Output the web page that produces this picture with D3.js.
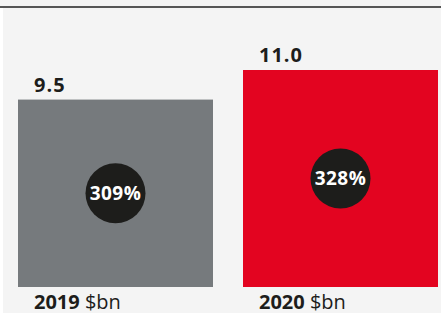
<!DOCTYPE html>
<html><head><meta charset="utf-8">
<script src="https://cdn.jsdelivr.net/npm/d3@7"></script>
<style>body{margin:0;background:#f4f4f4;}svg{display:block;}</style>
</head><body>
<script>
const categories = ["2019", "2020"];
const values = [9.5, 11.0];
const valueLabels = ["9.5", "11.0"];
const pctLabels = ["309%", "328%"];
const unit = "$bn";
const colors = ["#767a7d", "#e30420"];

const W = 441, H = 313;
const svg = d3.select("body").append("svg").attr("width", W).attr("height", H);
svg.append("rect").attr("width", W).attr("height", H).attr("fill", "#f4f4f4");
svg.append("rect").attr("x", 0).attr("y", 8).attr("width", 3).attr("height", H - 8).attr("fill", "#ffffff");
svg.append("line").attr("x1", 0).attr("x2", W).attr("y1", 7).attr("y2", 7)
  .attr("stroke", "#222").attr("stroke-width", 1.5);

const x = d3.scaleBand().domain(categories).range([18, 438]).paddingInner(30 / 225).paddingOuter(0);
const y = d3.scaleLinear().domain([0, 11]).range([287, 70]);

const font = "'Open Sans', sans-serif";
const g = svg.append("g");
categories.forEach((c, i) => {
  const x0 = x(c), bw = x.bandwidth();
  g.append("rect").attr("x", x0).attr("y", y(values[i])).attr("width", bw)
    .attr("height", y(0) - y(values[i])).attr("fill", colors[i]);
  const cy = (y(values[i]) + y(0)) / 2;
  g.append("circle").attr("cx", x0 + bw / 2).attr("cy", cy).attr("r", 30).attr("fill", "#1d1d1b");
  g.append("text").attr("x", x0 + bw / 2).attr("y", cy + 6.5).attr("text-anchor", "middle")
    .attr("font-family", font).attr("font-weight", 700).attr("font-size", 19)
    .attr("letter-spacing", 0.5)
    .attr("fill", "#fff").text(pctLabels[i]);
  g.append("text").attr("x", x0 + 16).attr("y", y(values[i]) - 8)
    .attr("font-family", font).attr("font-weight", 700).attr("font-size", 20)
    .attr("letter-spacing", 1)
    .attr("fill", "#1d1d1b").text(valueLabels[i]);
  const t = g.append("text").attr("x", x0 + 16).attr("y", 309)
    .attr("font-family", font).attr("font-size", 20).attr("fill", "#1d1d1b");
  t.append("tspan").attr("font-weight", 700).text(c + " ");
  t.append("tspan").attr("font-weight", 400).text(unit);
});
</script>
</body></html>
